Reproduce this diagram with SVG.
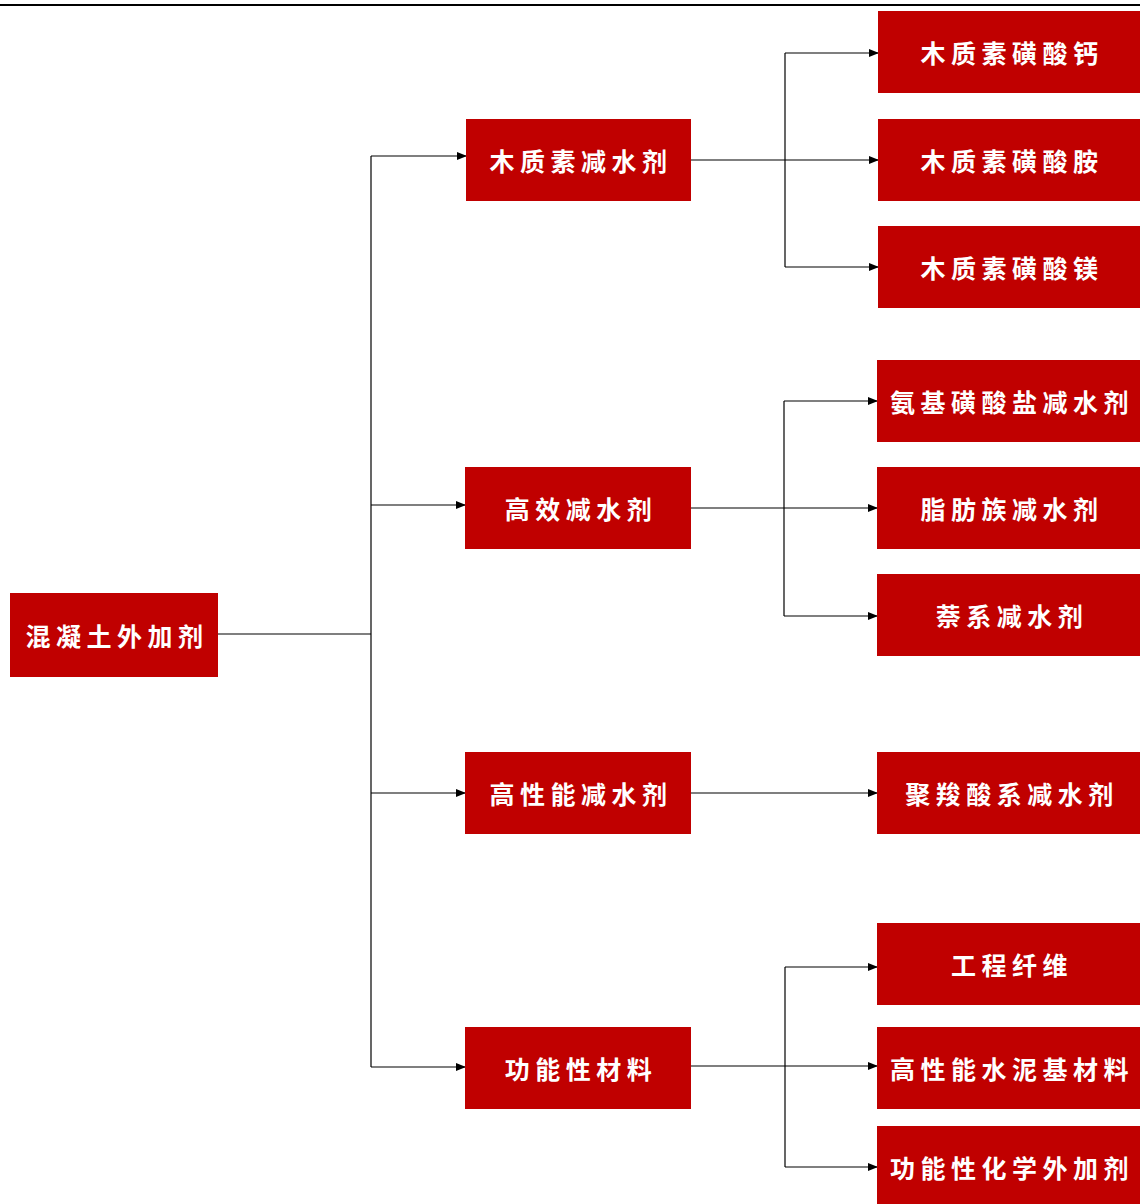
<svg xmlns="http://www.w3.org/2000/svg" width="1140" height="1204" viewBox="0 0 1140 1204">
<style>
.box{fill:#C00000;}
.t{fill:#fff;font-family:"Noto Sans CJK SC","Noto Sans",sans-serif;font-weight:bold;font-size:25px;letter-spacing:5.5px;text-anchor:middle;dominant-baseline:central;}
.ln{stroke:#000;stroke-width:1.2;fill:none;}
.ar{stroke:#000;stroke-width:1.2;fill:none;marker-end:url(#ah);}
</style>
<defs>
<marker id="ah" markerWidth="10" markerHeight="8" refX="9" refY="4" orient="auto" markerUnits="userSpaceOnUse">
<path d="M0,0 L10,4 L0,8 Z" fill="#000"/>
</marker>
</defs>
<rect x="0" y="0" width="1140" height="1204" fill="#fff"/>
<line x1="0" y1="5" x2="1140" y2="5" stroke="#000" stroke-width="2"/>
<g id="connectors">
<path class="ln" d="M218,634 H371"/>
<path class="ln" d="M371,156 V1067"/>
<path class="ar" d="M371,156 H466"/>
<path class="ar" d="M371,505 H465"/>
<path class="ar" d="M371,793 H465"/>
<path class="ar" d="M371,1067 H465"/>
<path class="ln" d="M785,53 V267"/>
<path class="ar" d="M785,53 H878"/>
<path class="ar" d="M691,160 H878"/>
<path class="ar" d="M785,267 H878"/>
<path class="ln" d="M784,401 V616"/>
<path class="ar" d="M784,401 H877"/>
<path class="ar" d="M691,508 H877"/>
<path class="ar" d="M784,616 H877"/>
<path class="ar" d="M691,793 H877"/>
<path class="ln" d="M785,967 V1167"/>
<path class="ar" d="M785,967 H877"/>
<path class="ar" d="M691,1066 H877"/>
<path class="ar" d="M785,1167 H877"/>
</g>
<g id="root"><rect class="box" x="10" y="593" width="208" height="84"/><text class="t" x="117" y="635">混凝土外加剂</text></g>
<g id="m1"><rect class="box" x="466" y="119" width="225" height="82"/><text class="t" x="581" y="160">木质素减水剂</text></g>
<g id="m2"><rect class="box" x="465" y="467" width="226" height="82"/><text class="t" x="581" y="508">高效减水剂</text></g>
<g id="m3"><rect class="box" x="465" y="752" width="226" height="82"/><text class="t" x="581" y="793">高性能减水剂</text></g>
<g id="m4"><rect class="box" x="465" y="1027" width="226" height="82"/><text class="t" x="581" y="1068">功能性材料</text></g>
<g id="r1"><rect class="box" x="878" y="11" width="262" height="82"/><text class="t" x="1012" y="52">木质素磺酸钙</text></g>
<g id="r2"><rect class="box" x="878" y="119" width="262" height="82"/><text class="t" x="1012" y="160">木质素磺酸胺</text></g>
<g id="r3"><rect class="box" x="878" y="226" width="262" height="82"/><text class="t" x="1012" y="267">木质素磺酸镁</text></g>
<g id="r4"><rect class="box" x="877" y="360" width="263" height="82"/><text class="t" x="1012" y="401">氨基磺酸盐减水剂</text></g>
<g id="r5"><rect class="box" x="877" y="467" width="263" height="82"/><text class="t" x="1012" y="508">脂肪族减水剂</text></g>
<g id="r6"><rect class="box" x="877" y="574" width="263" height="82"/><text class="t" x="1012" y="615">萘系减水剂</text></g>
<g id="r7"><rect class="box" x="877" y="752" width="263" height="82"/><text class="t" x="1012" y="793">聚羧酸系减水剂</text></g>
<g id="r8"><rect class="box" x="877" y="923" width="263" height="82"/><text class="t" x="1012" y="964">工程纤维</text></g>
<g id="r9"><rect class="box" x="877" y="1027" width="263" height="82"/><text class="t" x="1012" y="1068">高性能水泥基材料</text></g>
<g id="r10"><rect class="box" x="877" y="1126" width="263" height="78"/><text class="t" x="1012" y="1167">功能性化学外加剂</text></g>
</svg>
